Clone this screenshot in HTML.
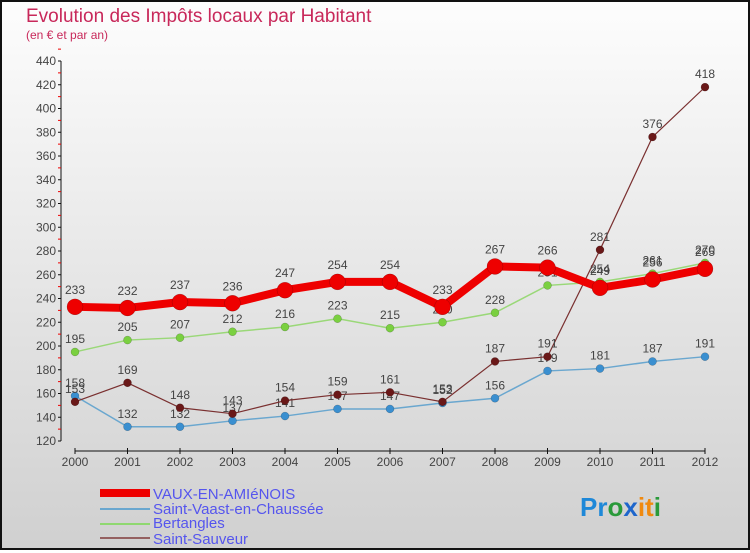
<!DOCTYPE html>
<html><head><meta charset="utf-8"><style>
body{margin:0;width:750px;height:550px;overflow:hidden;font-family:"Liberation Sans","DejaVu Sans",sans-serif}
#wrap{position:relative;width:746px;height:546px;border:2px solid #111;background:linear-gradient(#fdfdfd,#d0d0d0)}
</style></head><body>
<div id="wrap">
<svg id="svg" width="746" height="546" viewBox="2 2 746 546" xmlns="http://www.w3.org/2000/svg">
<text x="26" y="22" font-size="19" fill="#c8285a">Evolution des Impôts locaux par Habitant</text>
<text x="26" y="39" font-size="12" fill="#c8285a">(en € et par an)</text>
<g id="axes"></g><g id="series"></g>
<g>
<rect x="100" y="489" width="50" height="8" fill="#e00"/>
<text x="153" y="499" font-size="15" fill="#5555ee">VAUX-EN-AMIéNOIS</text>
<rect x="100" y="508" width="50" height="2" fill="#6aa7cf"/>
<text x="153" y="514" font-size="15" fill="#5555ee">Saint-Vaast-en-Chaussée</text>
<rect x="100" y="523" width="50" height="2" fill="#8fd870"/>
<text x="153" y="528" font-size="15" fill="#5555ee">Bertangles</text>
<rect x="100" y="537" width="50" height="2" fill="#946060"/>
<text x="153" y="544" font-size="15" fill="#5555ee">Saint-Sauveur</text>
</g>
<text x="580" y="516" font-size="26" font-weight="bold"><tspan fill="#1e88d8">Pr</tspan><tspan fill="#2a9a3a">o</tspan><tspan fill="#1e66cc">x</tspan><tspan fill="#f08a10">it</tspan><tspan fill="#2a9a3a">i</tspan></text>
</svg></div>
<script>
const years=[2000,2001,2002,2003,2004,2005,2006,2007,2008,2009,2010,2011,2012];
const yTicks=[120,140,160,180,200,220,240,260,280,300,320,340,360,380,400,420,440];
const vaux=[233,232,237,236,247,254,254,233,267,266,249,256,265];
const vaast=[158,132,132,137,141,147,147,152,156,179,181,187,191];
const bert=[195,205,207,212,216,223,215,220,228,251,254,261,270];
const sauveur=[153,169,148,143,154,159,161,153,187,191,281,376,418];
const NS="http://www.w3.org/2000/svg";
const X=i=>75+i*52.5, Y=v=>441-(v-120)*380/320;
function mk(t,a,p){const e=document.createElementNS(NS,t);for(const k in a)e.setAttribute(k,a[k]);p.appendChild(e);return e;}
const ax=document.getElementById('axes'), sg=document.getElementById('series');
const yl=mk('line',{x1:61,y1:Y(440),x2:61,y2:Y(120),stroke:'#111','stroke-width':1},ax);


yTicks.forEach(v=>{
 mk('line',{x1:58,x2:61,y1:Y(v),y2:Y(v),stroke:'#111'},ax);
 mk('line',{x1:58,x2:61,y1:Y(v+10),y2:Y(v+10),stroke:'#e00'},ax);
 const t=mk('text',{x:56,y:Y(v)+4,'font-size':12,fill:'#444','text-anchor':'end'},ax);t.textContent=v;
 
 
});
const xl=mk('line',{x1:X(0),y1:451,x2:X(12),y2:451,stroke:'#111'},ax);


years.forEach((y,i)=>{
 mk('line',{x1:X(i),x2:X(i),y1:448,y2:454,stroke:'#111'},ax);
 const t=mk('text',{x:X(i),y:466,'font-size':12,fill:'#444','text-anchor':'middle'},ax);t.textContent=y;
 
 
});
function series(d,name,col,w,r,dot){
 const g=mk('g',{},sg);
 
 
 mk('polyline',{points:d.map((v,i)=>X(i)+','+Y(v)).join(' '),fill:'none',stroke:col,'stroke-width':w},g);
 d.forEach((v,i)=>{
  const c=mk('circle',{cx:X(i),cy:Y(v),r:r,fill:dot,stroke:'rgba(0,0,0,0.3)','stroke-width':0.5},g);
  
  
  const t=mk('text',{x:X(i),y:Y(v)-(r+5),'font-size':12,fill:'#444','text-anchor':'middle'},g);t.textContent=v;
  
  
 });
}
series(vaast,'saint-vaast','#6aa7cf',1.5,4,'#3a8fd0');
series(bert,'bertangles','#9ad878',1.5,4,'#7ad040');
series(sauveur,'saint-sauveur','#7a3030',1.2,4,'#6a1818');
series(vaux,'vaux','#ee0000',8,8,'#ee0000');
</script>
</body></html>
